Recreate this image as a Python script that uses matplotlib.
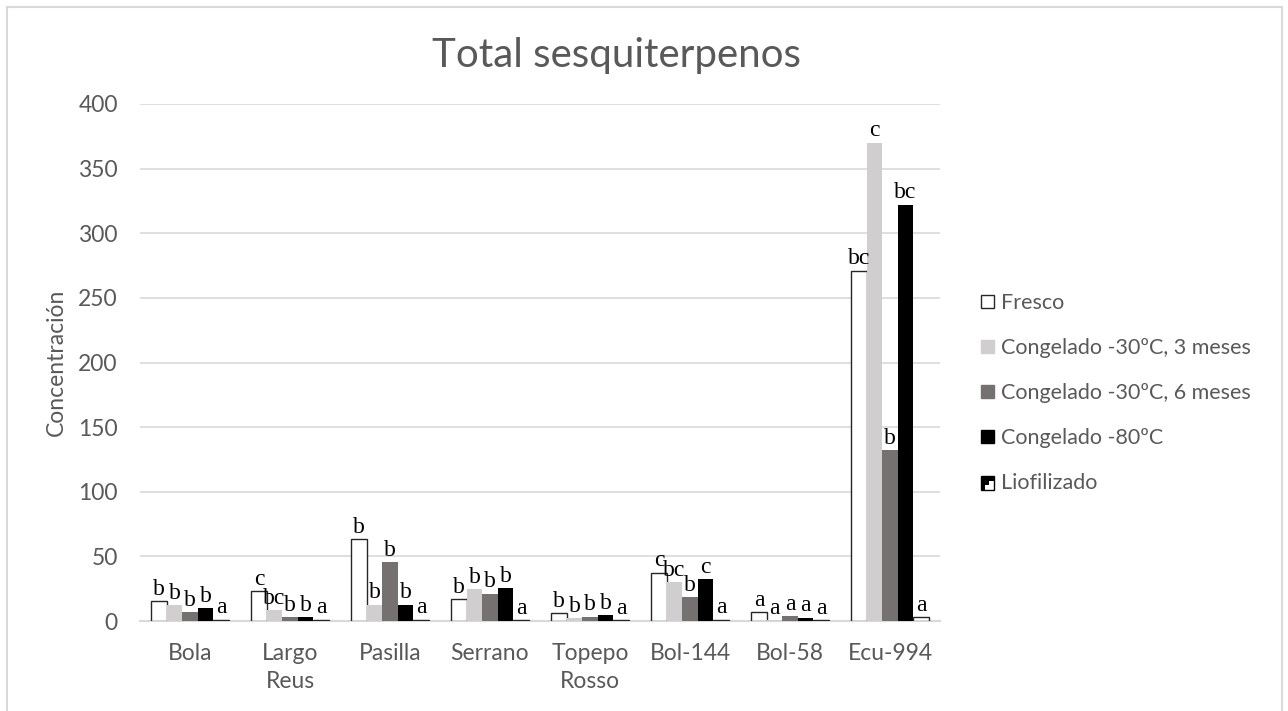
import matplotlib
matplotlib.use('Agg')
import matplotlib.pyplot as plt
import numpy as np
from matplotlib.patches import Patch, Rectangle, Polygon

# Total sesquiterpene concentration per cultivar and storage treatment
cultivars = ['Bola', 'Largo\nReus', 'Pasilla', 'Serrano', 'Topepo\nRosso', 'Bol-144', 'Bol-58', 'Ecu-994']
treatments = ['Fresco', 'Congelado -30ºC, 3 meses', 'Congelado -30ºC, 6 meses',
              'Congelado -80ºC', 'Liofilizado']

fresco = [15.5, 23, 63.5, 17, 6, 37.5, 7, 271]
cong_3m = [12, 8.5, 12.5, 24.5, 2, 30, 0.5, 370]
cong_6m = [7, 3, 45.5, 21, 3.3, 18.5, 3.5, 132]
cong_80 = [10, 3, 12.5, 25.5, 4.5, 32.5, 2.7, 322]
liofilizado = [1, 1, 1, 0.5, 0.5, 1, 0.5, 3]

# significance letters, one list per treatment
let_fresco = ['b', 'c', 'b', 'b', 'b', 'c', 'a', 'bc']
let_3m = ['b', 'bc', 'b', 'b', 'b', 'bc', 'a', 'c']
let_6m = ['b', 'b', 'b', 'b', 'b', 'b', 'a', 'b']
let_80 = ['b', 'b', 'b', 'b', 'b', 'c', 'a', 'bc']
let_lio = ['a', 'a', 'a', 'a', 'a', 'a', 'a', 'a']

series = [fresco, cong_3m, cong_6m, cong_80, liofilizado]
letters = [let_fresco, let_3m, let_6m, let_80, let_lio]
faces = ['white', '#d0cece', '#767171', 'black', 'white']
edges = ['#262626', 'none', 'none', 'none', '#262626']

text_col = '#595959'
grid_col = '#d9d9d9'
fs = 16.5
plt.rcParams['font.family'] = ['Lato', 'DejaVu Sans']


class LioHandler:
    """Legend key with a stepped black/white fill."""
    def legend_artist(self, legend, orig_handle, fontsize, handlebox):
        x0, y0 = handlebox.xdescent, handlebox.ydescent
        w, h = handlebox.width, handlebox.height
        tr = handlebox.get_transform()
        box = Rectangle((x0, y0), w, h, facecolor='white', edgecolor='black', lw=1, transform=tr)
        dark = Polygon([(x0, y0), (x0, y0 + h), (x0 + w, y0 + h), (x0 + w, y0 + 0.65 * h),
                        (x0 + 0.6 * w, y0 + 0.65 * h), (x0 + 0.6 * w, y0 + 0.35 * h),
                        (x0 + 0.3 * w, y0 + 0.35 * h), (x0 + 0.3 * w, y0)],
                       facecolor='black', edgecolor='none', transform=tr)
        handlebox.add_artist(box)
        handlebox.add_artist(dark)
        return box


fig = plt.figure(figsize=(12.88, 7.11), dpi=100)
ax = fig.add_axes([140 / 1288, 90 / 711, 800 / 1288, 517 / 711])

# outer chart frame, open at the bottom
fig.patches.append(Rectangle((7 / 1288, -0.05), 1275 / 1288, 1.05 - 7 / 711, transform=fig.transFigure,
                             fill=False, edgecolor=grid_col, lw=1.5))

x = np.arange(len(cultivars))
width = 0.155
handles = []
for i, (vals, labs) in enumerate(zip(series, letters)):
    pos = x + (i - 2) * width
    ax.bar(pos, vals, width, color=faces[i], edgecolor=edges[i],
           linewidth=1 if edges[i] != 'none' else 0, zorder=3)
    for xp, v, lab in zip(pos, vals, labs):
        ax.annotate(lab, (xp, v), xytext=(0, 1), textcoords='offset points',
                    ha='center', va='bottom', fontsize=17, family='Liberation Serif',
                    color='black', zorder=4)
    handles.append(Patch(facecolor=faces[i], edgecolor=edges[i] if edges[i] != 'none' else faces[i], lw=1))

ax.set_xlim(-0.5, len(cultivars) - 0.5)
ax.set_ylim(0, 400)
ax.set_yticks(np.arange(0, 401, 50))
ax.set_xticks(x)
ax.set_xticklabels(cultivars, fontsize=fs, color=text_col, linespacing=1.42)
ax.tick_params(axis='y', length=0, pad=16, labelsize=fs, labelcolor=text_col)
ax.tick_params(axis='x', length=0, pad=16)
ax.grid(axis='y', color=grid_col, lw=1.2, zorder=0)
for side in ['top', 'right', 'left']:
    ax.spines[side].set_visible(False)
ax.spines['bottom'].set_color(grid_col)
ax.spines['bottom'].set_linewidth(1.5)

ax.set_ylabel('Concentración', fontsize=fs, color=text_col)
ax.yaxis.set_label_coords((67 - 140) / 800, 0.5)
fig.text(616 / 1288, 1 - 55 / 711, 'Total sesquiterpenos', ha='center', va='center',
         fontsize=29, color=text_col)

fig.legend(handles, treatments, handler_map={handles[4]: LioHandler()},
           loc='center left', bbox_to_anchor=(962 / 1288, 1 - 393 / 711),
           frameon=False, fontsize=15.5, labelcolor=text_col,
           handlelength=0.58, handleheight=0.58, handletextpad=0.35, labelspacing=1.16)

plt.savefig('out.png', dpi=100)
